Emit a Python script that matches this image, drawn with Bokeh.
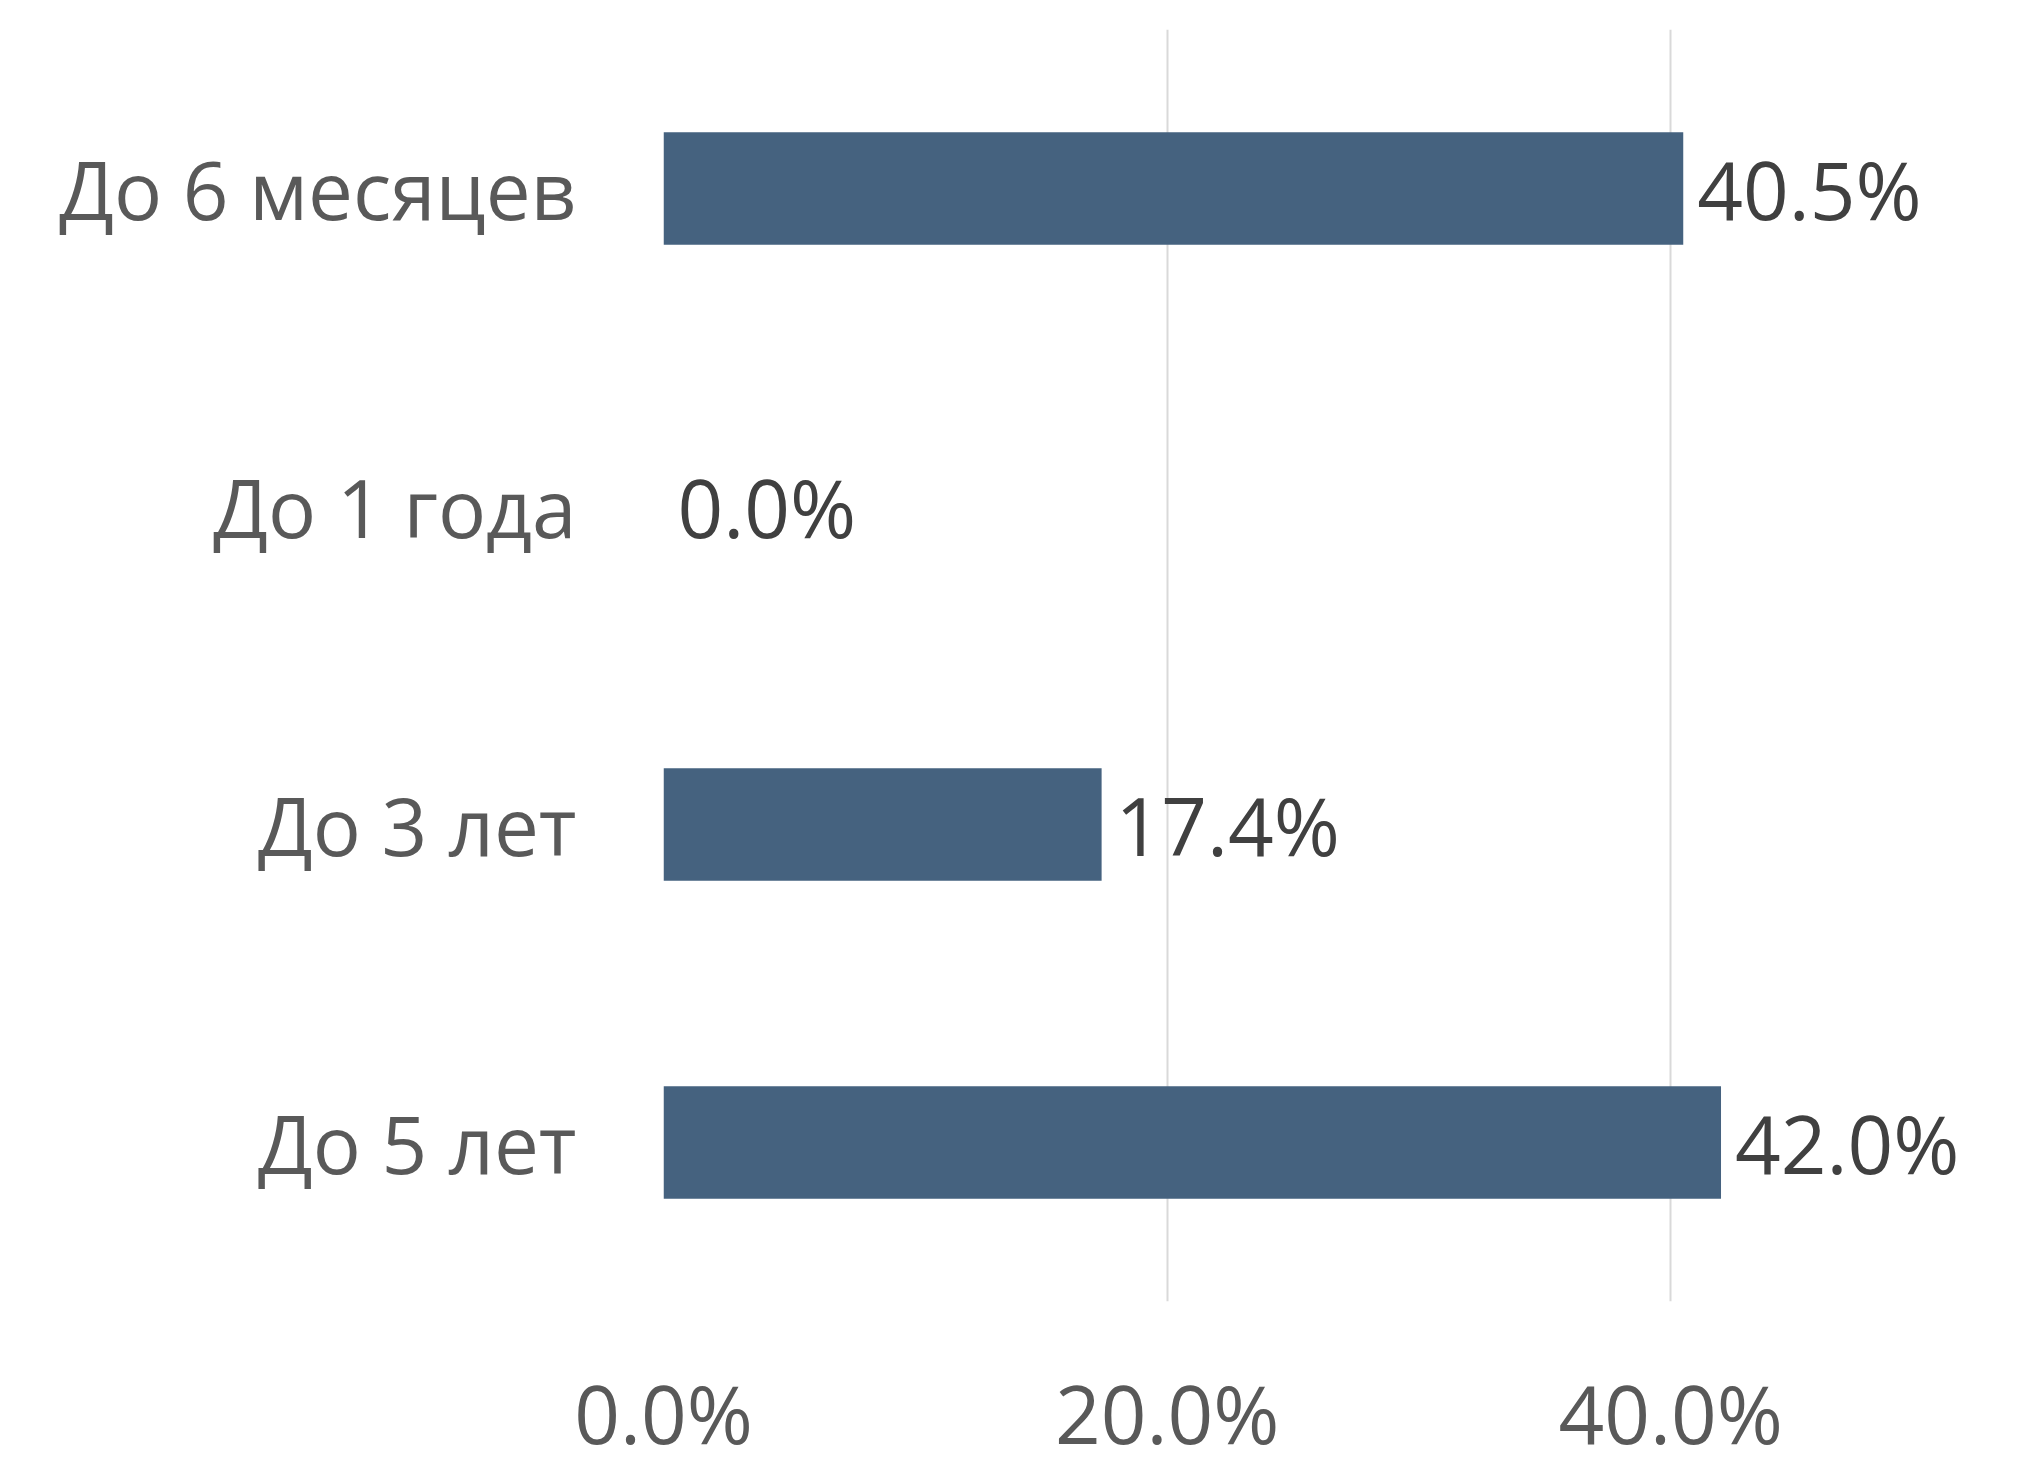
from bokeh.plotting import figure
from bokeh.models import ColumnDataSource, FixedTicker, PrintfTickFormatter, Range1d, FactorRange
from bokeh.core.properties import value
from bokeh.embed import file_html
from bokeh.resources import INLINE

categories = ["До 6 месяцев", "До 1 года", "До 3 лет", "До 5 лет"]
values = [40.5, 0.0, 17.4, 42.0]
labels = ["40.5%", "0.0%", "17.4%", "42.0%"]
tick_values = [0, 20, 40]

FONT = "Open Sans"
BAR_COLOR = "#45627f"

src = ColumnDataSource(dict(cat=categories, val=values, lab=labels))

p = figure(
    width=2020, height=1470,
    y_range=FactorRange(*reversed(categories)),
    x_range=Range1d(0, 53.1),
    output_backend="svg", toolbar_location=None,
    min_border_left=663, min_border_right=20,
    min_border_top=29, min_border_bottom=169,
)
p.outline_line_color = None
p.background_fill_color = "white"
p.border_fill_color = "white"

p.hbar(y="cat", right="val", left=0, height=0.353, source=src,
       fill_color=BAR_COLOR, line_color=None)

p.text(x="val", y="cat", text="lab", source=src, x_offset=14,
       text_align="left", text_baseline="middle",
       text_font=value(FONT), text_font_size="80px", text_color="#404040")

p.xaxis.ticker = FixedTicker(ticks=tick_values)
p.xaxis.formatter = PrintfTickFormatter(format="%.1f%%")
p.xaxis.axis_line_color = None
p.xaxis.major_tick_line_color = None
p.xaxis.minor_tick_line_color = None
p.xaxis.major_label_text_font = FONT
p.xaxis.major_label_text_font_size = "80px"
p.xaxis.major_label_text_color = "#595959"
p.xaxis.major_label_standoff = 50

p.yaxis.axis_line_color = None
p.yaxis.major_tick_line_color = None
p.yaxis.minor_tick_line_color = None
p.yaxis.major_label_text_font = FONT
p.yaxis.major_label_text_font_size = "80px"
p.yaxis.major_label_text_color = "#595959"
p.yaxis.major_label_standoff = 81

p.xgrid.grid_line_color = "#d9d9d9"
p.xgrid.grid_line_width = 2
p.ygrid.grid_line_color = None

open("out.html", "w").write(file_html(p, INLINE))
